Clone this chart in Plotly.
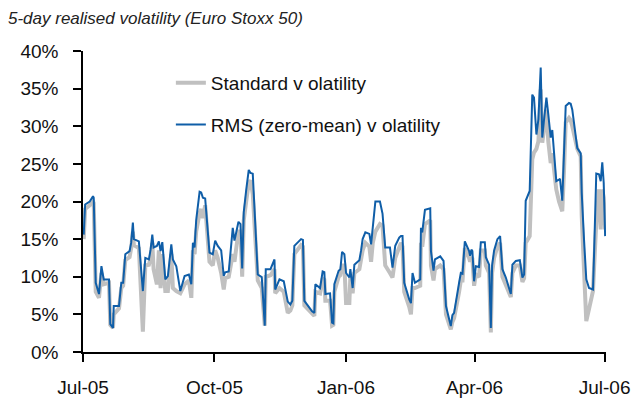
import pandas as pd
import plotly.graph_objects as go

START = "2005-07-01"

# day offsets from 1 Jul 2005
days = [0.5, 1.5, 4.7, 7.0, 7.5, 8.9, 11.2, 12.9, 14.5, 18.2,
        19.1, 21.0, 21.5, 25.2, 26.8, 28.1, 29.6, 32.6, 33.7, 34.9,
        35.6, 39.1, 41.9, 43.6, 46.1, 47.3, 48.5, 49.4, 51.7, 53.1,
        54.3, 55.5, 57.6, 59.4, 61.8, 62.9, 65.3, 68.1, 71.1, 74.1,
        75.8, 76.9, 78.1, 79.2, 81.6, 82.7, 83.9, 85.5, 88.5, 90.8,
        92.5, 94.3, 96.7, 98.5, 99.5, 102.0, 104.8, 106.0, 108.8, 110.2,
        111.4, 112.5, 114.2, 116.0, 117.2, 118.8, 122.3, 125.1, 127.2, 127.9,
        131.2, 134.0, 134.5, 137.5, 140.5, 143.3, 145.1, 146.5, 147.9, 152.6,
        153.9, 154.9, 158.4, 160.3, 161.9, 162.6, 165.9, 167.7, 168.9, 169.6,
        172.9, 174.3, 175.2, 175.9, 178.9, 180.1, 181.3, 182.9, 184.1, 186.4,
        187.1, 188.7, 189.9, 193.4, 194.6, 195.7, 197.6, 200.4, 201.6, 202.8,
        204.6, 207.8, 209.6, 211.5, 214.8, 216.6, 218.5, 221.3, 222.5, 223.6,
        224.8, 228.3, 229.5, 230.6, 232.3, 236.0, 236.5, 237.4, 238.3, 239.3,
        243.0, 243.5, 245.3, 246.3, 250.0, 252.3, 254.0, 257.4, 258.5, 259.7,
        263.2, 264.4, 265.6, 267.2, 270.2, 270.9, 271.8, 272.5, 273.7, 274.9,
        277.2, 278.4, 281.2, 281.9, 284.2, 285.4, 286.3, 287.7, 290.0, 291.9,
        293.5, 295.9, 299.4, 300.5, 302.9, 305.7, 307.5, 308.7, 309.8, 312.6,
        314.4, 315.6, 317.3, 318.7, 320.3, 321.4, 322.6, 324.3, 325.6, 327.3,
        328.4, 331.2, 333.1, 333.8, 335.4, 336.6, 337.8, 340.1, 341.3, 342.4,
        345.9, 348.3, 349.0, 350.6, 352.2, 354.1, 356.9, 357.6, 359.2, 361.1,
        362.3, 363.4, 364.4, 365.4]

rms_vol = [15.6, 19.6, 20.0, 20.7, 20.5, 9.2, 7.7, 11.4, 9.65, 9.65,
           3.7, 3.2, 6.1, 6.1, 9.2, 9.2, 13.0, 13.4, 14.5, 17.2,
           15.0, 14.7, 8.1, 12.5, 12.3, 13.6, 15.6, 13.9, 14.1, 14.7,
           13.4, 14.6, 9.65, 10.1, 14.3, 12.3, 11.4, 8.1, 10.1, 10.3,
           9.0, 14.5, 13.9, 17.5, 21.3, 21.2, 20.5, 20.4, 13.2, 13.0,
           14.8, 14.1, 13.5, 10.1, 10.6, 10.7, 16.5, 14.8, 17.3, 17.0,
           11.1, 18.6, 21.5, 24.2, 23.8, 23.7, 10.3, 9.96, 3.5, 11.0,
           11.0, 12.3, 8.3, 9.65, 9.4, 6.7, 6.3, 6.8, 14.1, 15.0,
           14.9, 6.8, 5.9, 5.4, 5.2, 9.0, 8.5, 10.7, 10.6, 7.7,
           7.8, 3.9, 3.8, 9.0, 10.8, 11.0, 13.3, 13.0, 10.5, 9.9,
           11.0, 8.5, 11.6, 12.2, 13.5, 15.0, 15.9, 15.7, 14.3, 16.5,
           20.0, 20.0, 18.4, 13.9, 13.9, 11.2, 14.1, 15.2, 15.4, 15.4,
           9.2, 7.0, 6.5, 10.5, 9.2, 9.65, 16.5, 15.9, 17.3, 18.9,
           19.1, 13.4, 10.8, 12.3, 12.7, 12.1, 6.1, 3.45, 4.9, 5.2,
           9.2, 10.5, 10.4, 14.7, 13.4, 12.8, 13.6, 13.4, 9.4, 11.4,
           11.3, 14.6, 14.6, 12.6, 11.6, 3.2, 11.5, 13.5, 15.0, 15.4,
           11.0, 9.9, 7.7, 11.6, 12.1, 12.2, 9.9, 10.3, 20.1, 21.4,
           34.2, 33.8, 28.9, 30.9, 37.8, 28.5, 30.8, 33.8, 31.6, 28.5,
           29.5, 22.7, 22.9, 23.0, 20.1, 26.0, 32.7, 33.1, 33.0, 32.2,
           27.1, 26.4, 21.2, 15.0, 9.65, 8.5, 8.3, 12.7, 23.7, 23.6,
           22.7, 25.2, 22.5, 15.4]

std_vol = [15.0, 19.0, 19.5, 20.0, 19.8, 8.0, 7.2, 10.5, 9.0, 9.2,
           3.6, 3.2, 5.0, 5.8, 8.5, 8.8, 12.2, 12.6, 13.8, 16.0,
           14.2, 13.8, 2.7, 11.5, 11.6, 12.5, 14.5, 11.0, 9.0, 13.5,
           8.5, 13.0, 8.1, 8.1, 13.0, 8.5, 8.1, 7.8, 9.0, 9.5,
           7.2, 13.5, 13.0, 16.0, 18.5, 19.0, 17.8, 19.5, 12.0, 11.5,
           13.5, 12.5, 10.5, 8.3, 9.8, 10.0, 13.0, 12.0, 16.0, 16.0,
           10.0, 17.5, 20.0, 22.5, 22.8, 21.0, 9.5, 8.5, 3.5, 10.0,
           10.2, 11.0, 7.8, 8.5, 8.0, 5.2, 5.5, 6.2, 13.0, 14.2,
           14.0, 6.2, 5.5, 5.0, 4.8, 8.0, 7.8, 9.8, 9.6, 6.8,
           6.8, 3.5, 3.6, 8.0, 10.0, 10.2, 11.5, 11.5, 6.5, 6.5,
           10.0, 7.8, 10.5, 11.0, 12.2, 13.5, 14.5, 14.0, 12.0, 14.5,
           16.0, 17.0, 16.8, 11.5, 10.5, 9.9, 12.5, 14.0, 14.5, 14.0,
           8.0, 6.0, 5.0, 8.5, 8.5, 8.8, 14.5, 14.0, 15.5, 17.0,
           17.5, 11.5, 9.5, 11.0, 11.5, 11.0, 5.0, 3.0, 4.0, 4.5,
           8.0, 9.5, 9.5, 13.8, 12.5, 12.0, 12.6, 12.4, 8.8, 10.3,
           10.0, 13.5, 13.5, 11.5, 10.5, 2.6, 10.5, 12.5, 14.0, 14.5,
           10.0, 9.0, 7.3, 10.5, 11.5, 11.5, 9.3, 9.8, 14.5, 15.4,
           25.6, 26.5, 27.0, 28.0, 34.9, 27.8, 29.5, 32.2, 28.0, 25.1,
           26.4, 21.6, 20.0, 19.5, 18.7, 24.0, 30.5, 31.1, 30.8, 30.0,
           27.0, 26.0, 18.1, 11.0, 4.1, 5.7, 8.1, 11.0, 17.2, 21.6,
           16.3, 21.6, 20.5, 16.3]

tick_dates = ["2005-07-01", "2005-10-01", "2006-01-01", "2006-04-01", "2006-07-01"]
tick_labels = ["Jul-05", "Oct-05", "Jan-06", "Apr-06", "Jul-06"]
y_ticks = [0, 5, 10, 15, 20, 25, 30, 35, 40]
y_labels = ["0%", "5%", "10%", "15%", "20%", "25%", "30%", "35%", "40%"]

dates = pd.Timestamp(START) + pd.to_timedelta(days, unit="D")

FONT = "Liberation Sans, Arial, sans-serif"

fig = go.Figure()
fig.add_trace(go.Scatter(x=dates, y=std_vol, mode="lines",
                         name="Standard v olatility", legendgroup="a",
                         line=dict(color="#c0c0c0", width=4)))
fig.add_trace(go.Scatter(x=dates, y=rms_vol, mode="lines",
                         name="RMS (zero-mean) v olatility", legendgroup="b",
                         line=dict(color="#0f5ea8", width=2)))

fig.update_layout(
    width=634, height=400,
    margin=dict(l=83, r=28, t=51, b=48),
    paper_bgcolor="white", plot_bgcolor="white",
    font=dict(family=FONT, size=19, color="#111111"),
    title=dict(text="<i>5-day realised volatility (Euro Stoxx 50)</i>",
               font=dict(family=FONT, size=17, color="#222222"),
               xref="container", x=8/634, xanchor="left",
               yref="container", y=1-18/400, yanchor="middle",
               automargin=False),
    showlegend=True,
    legend=dict(x=0.168, y=0.957, xanchor="left", yanchor="top",
                bgcolor="rgba(0,0,0,0)", font=dict(size=19),
                tracegroupgap=14, traceorder="grouped"),
    xaxis=dict(type="date", range=["2005-07-01", "2006-07-02"],
               tickvals=tick_dates, ticktext=tick_labels,
               showgrid=False, zeroline=False, showline=True,
               linecolor="black", linewidth=1.5, automargin=False,
               ticks="outside", ticklen=8, tickwidth=1.5, tickcolor="black",
               ticklabelstandoff=9),
    yaxis=dict(range=[0, 40], tickvals=y_ticks, ticktext=y_labels,
               showgrid=False, zeroline=False, showline=True,
               linecolor="black", linewidth=1.5, automargin=False,
               ticks="outside", ticklen=8, tickwidth=1.5, tickcolor="black",
               ticklabelstandoff=11),
)

fig.write_html("out.html", config={"displayModeBar": False},
               post_script="document.body.style.margin='0';document.body.style.padding='0';")
